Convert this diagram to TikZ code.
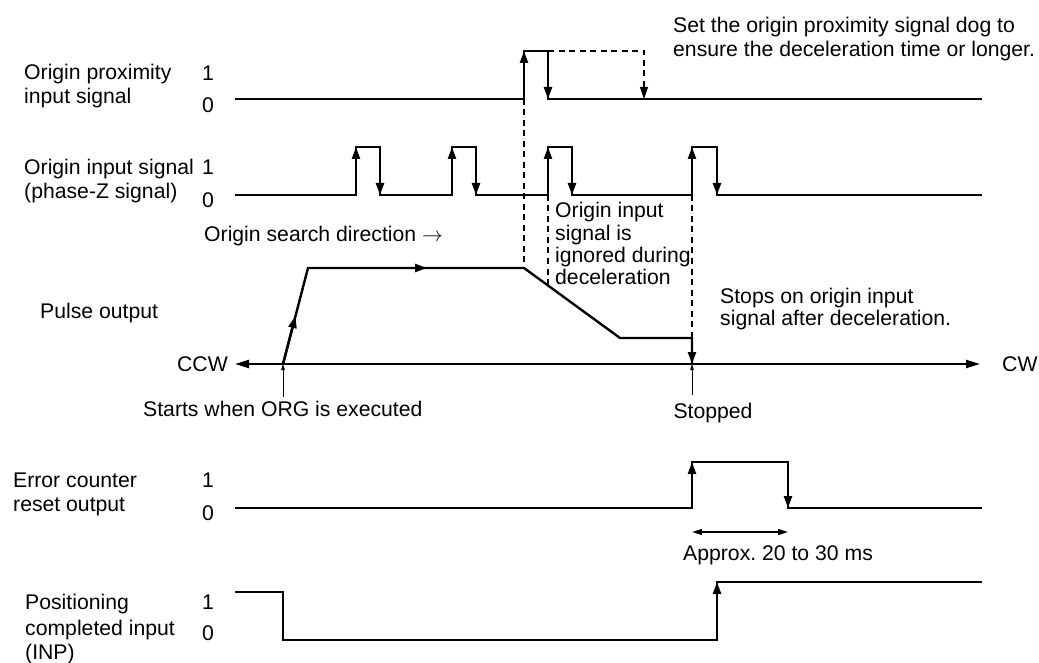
\documentclass[tikz,border=0pt]{standalone}
\usepackage{fontspec}
\setmainfont{Liberation Sans}
\usetikzlibrary{arrows.meta}
\frenchspacing
\begin{document}
\begin{tikzpicture}[x=1pt,y=-1pt,
  sig/.style={line width=2.4pt, line join=miter},
  edgearrow/.style={line width=2.4pt, -{Triangle[length=12pt,width=8pt]}},
  dline/.style={line width=1.1pt, dash pattern=on 6pt off 4.5pt},
  thinarrow/.style={line width=0.8pt, -{Triangle[length=6pt,width=3.5pt]}},
  lbl/.style={inner sep=0pt, anchor=base west, font=\fontsize{21.2}{24}\selectfont},
  lvl/.style={inner sep=0pt, anchor=base, font=\fontsize{21.2}{24}\selectfont},
  ]
\useasboundingbox (0,0) rectangle (1039,663);

% ---------- labels ----------
\node[lbl] (l1a) at (24,80) {Origin proximity};
\node[lbl] (l1b) at (24,104) {input signal};
\node[lvl] (l1one) at (208,80.5) {1};
\node[lvl] (l1zero) at (208,112.5) {0};

\node[lbl] (l2a) at (24,174.5) {Origin input signal};
\node[lbl] (l2b) at (24,199) {(phase-Z signal)};
\node[lvl] (l2one) at (208,174.5) {1};
\node[lvl] (l2zero) at (208,207.5) {0};

\node[lbl] (dir) at (204,242) {Origin search direction $\rightarrow$};
\node[lbl] (pout) at (40,318) {Pulse output};
\node[lvl, anchor=base east] (ccw) at (228,371.5) {CCW};
\node[lbl] (cw) at (1002,371.5) {CW};
\node[lbl] (starts) at (143,416) {Starts when ORG is executed};
\node[lvl] (stopped) at (713,418) {Stopped};

\node[lbl] (n1a) at (673,32.5) {Set the origin proximity signal dog to};
\node[lbl] (n1b) at (673,56.5) {ensure the deceleration time or longer.};

\node[lbl] (n2a) at (555,218) {Origin input};
\node[lbl] (n2b) at (555,240.5) {signal is};
\node[lbl] (n2c) at (555,262) {ignored during};
\node[lbl] (n2d) at (555,284.5) {deceleration};

\node[lbl] (n3a) at (720,303.5) {Stops on origin input};
\node[lbl] (n3b) at (720,325.5) {signal after deceleration.};

\node[lbl] (l4a) at (13,487) {Error counter};
\node[lbl] (l4b) at (13,511) {reset output};
\node[lvl] (l4one) at (208,487) {1};
\node[lvl] (l4zero) at (208,520) {0};
\node[lbl] (approx) at (683,560.5) {Approx. 20 to 30 ms};

\node[lbl] (l5a) at (25,609) {Positioning};
\node[lbl] (l5b) at (25,635) {completed input};
\node[lbl] (l5c) at (25,659) {(INP)};
\node[lvl] (l5one) at (208,609.5) {1};
\node[lvl] (l5zero) at (208,640.5) {0};

% ---------- origin proximity input signal ----------
\draw[sig] (235,99) -| (524,51) -| (548,99) -- (982,99);
\draw[edgearrow] (524,99) -- (524,51);
\draw[edgearrow] (548,51) -- (548,99);
\draw[dline, -{Triangle[length=12pt,width=8pt]}] (548,51) -| (644,99);

% ---------- origin input signal ----------
\draw[sig] (235,195) -| (356,147) -| (380,195) -| (452,147) -| (476,195)
  -| (548,147) -| (572,195) -| (692,147) -| (717,195) -- (982,195);
\foreach \r/\f in {356/380,452/476,548/572,692/717}{
  \draw[edgearrow] (\r,195) -- (\r,147);
  \draw[edgearrow] (\f,147) -- (\f,195);
}

% ---------- dashed guides ----------
\draw[dline] (524,99) -- (524,268);
\draw[dline] (548,195) -- (548,285);
\draw[dline] (692,195) -- (692,338);

% ---------- pulse output ----------
\coordinate (start) at (283,364);
\coordinate (stop) at (692,364);
\draw[sig] (start) -- (308,268) -- (524,268) -- (620,338) -- (692,338) -- (stop);
\draw[edgearrow] (start) -- (295.5,316);
\draw[edgearrow] (308,268) -- (427,268);
\draw[edgearrow] (692,338) -- (stop);
\draw[line width=2.2pt, {Triangle[length=14pt,width=8pt]}-{Triangle[length=14pt,width=8pt]}] (235,364) -- (980,364);
\draw[thinarrow] (283,397) -- (start);
\draw[thinarrow] (692,395) -- (stop);

% ---------- error counter reset output ----------
\draw[sig] (235,508) -| (692,462) -| (788,508) -- (982,508);
\draw[edgearrow] (692,508) -- (692,462);
\draw[edgearrow] (788,462) -- (788,508);
\draw[line width=1.6pt, {Triangle[length=10pt,width=6pt]}-{Triangle[length=10pt,width=6pt]}] (692,532) -- (788,532);

% ---------- positioning completed input ----------
\draw[sig] (235,592) -| (283,640) -| (717,582) -- (982,582);
\draw[edgearrow] (717,640) -- (717,582);
\end{tikzpicture}
\end{document}
